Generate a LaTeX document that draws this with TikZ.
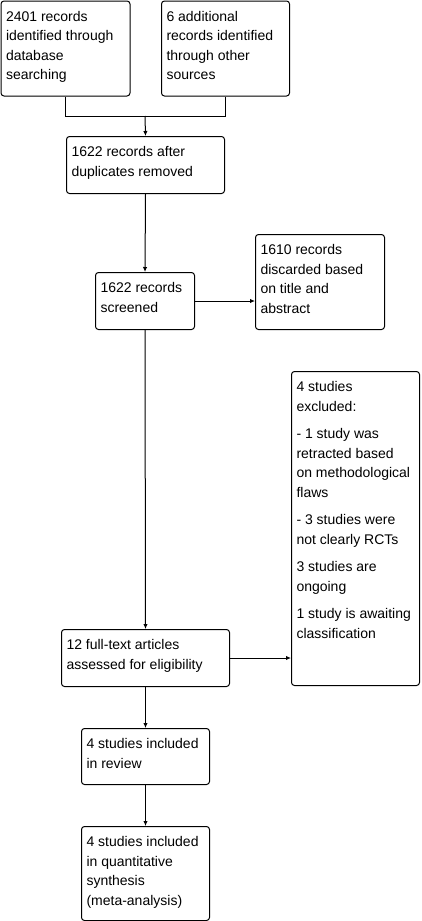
\documentclass[tikz,border=0pt]{standalone}
\usepackage{fontspec}
\setmainfont{Liberation Sans}
\usetikzlibrary{arrows.meta}
\newcommand\flowbox[6]{%
  \node[boxst, minimum width=#4pt, minimum height=#5pt] (#1) at (#2,#3)
  {\parbox[c][#5pt][t]{\dimexpr#4pt-10pt\relax}{\raggedright\setlength\parskip{8pt}\rule{0pt}{20pt}#6}};}
\tikzset{
  boxst/.style={draw, line width=1pt, rounded corners=3pt, inner sep=0pt, anchor=north west,
    font=\fontsize{14}{19.5}\selectfont, fill=white},
  conn/.style={line width=1pt},
  arr/.style={line width=1pt, -{Latex[length=5pt,width=4.5pt]}}
}
\begin{document}
\begin{tikzpicture}[x=1pt,y=-1pt]
\useasboundingbox (0,0) rectangle (421,921);
\flowbox{b1}{0.5}{0.5}{129}{95}{2401 records\\identified through\\database\\searching}
\flowbox{b2}{161}{0.5}{128}{95}{6 additional\\records identified\\through other\\sources}
\flowbox{b3}{66}{136}{158}{57}{1622 records after\\duplicates removed}
\flowbox{b4}{95}{272}{99}{57}{1622 records\\screened}
\flowbox{b5}{255}{234}{129}{95}{1610 records\\discarded based\\on title and\\abstract}
\flowbox{b6}{61}{629}{168}{57}{12 full-text articles\\assessed for eligibility}
\flowbox{b7}{291}{371}{128}{314}{4 studies\\excluded:\par - 1 study was\\retracted based\\on methodological\\flaws\par - 3 studies were\\not clearly RCTs\par 3 studies are\\ongoing\par 1 study is awaiting\\classification}
\flowbox{b8}{81}{728}{128}{56}{4 studies included\\in review}
\flowbox{b9}{81}{826}{128}{94}{4 studies included\\in quantitative\\synthesis\\(meta-analysis)}
\coordinate (m) at (145,116);
\draw[conn] (b1.south) |- (m);
\draw[conn] (b2.south) |- (m);
\draw[arr] (m) -- (b3.north);
\draw[arr] (b3.south) -- (b4.north);
\draw[arr] (b4.east) -- (b4.east -| b5.west);
\draw[arr] (b4.south) -- (b6.north);
\draw[arr] (b6.east) -- (b6.east -| b7.west);
\draw[arr] (b6.south) -- (b8.north);
\draw[arr] (b8.south) -- (b9.north);
\end{tikzpicture}
\end{document}
